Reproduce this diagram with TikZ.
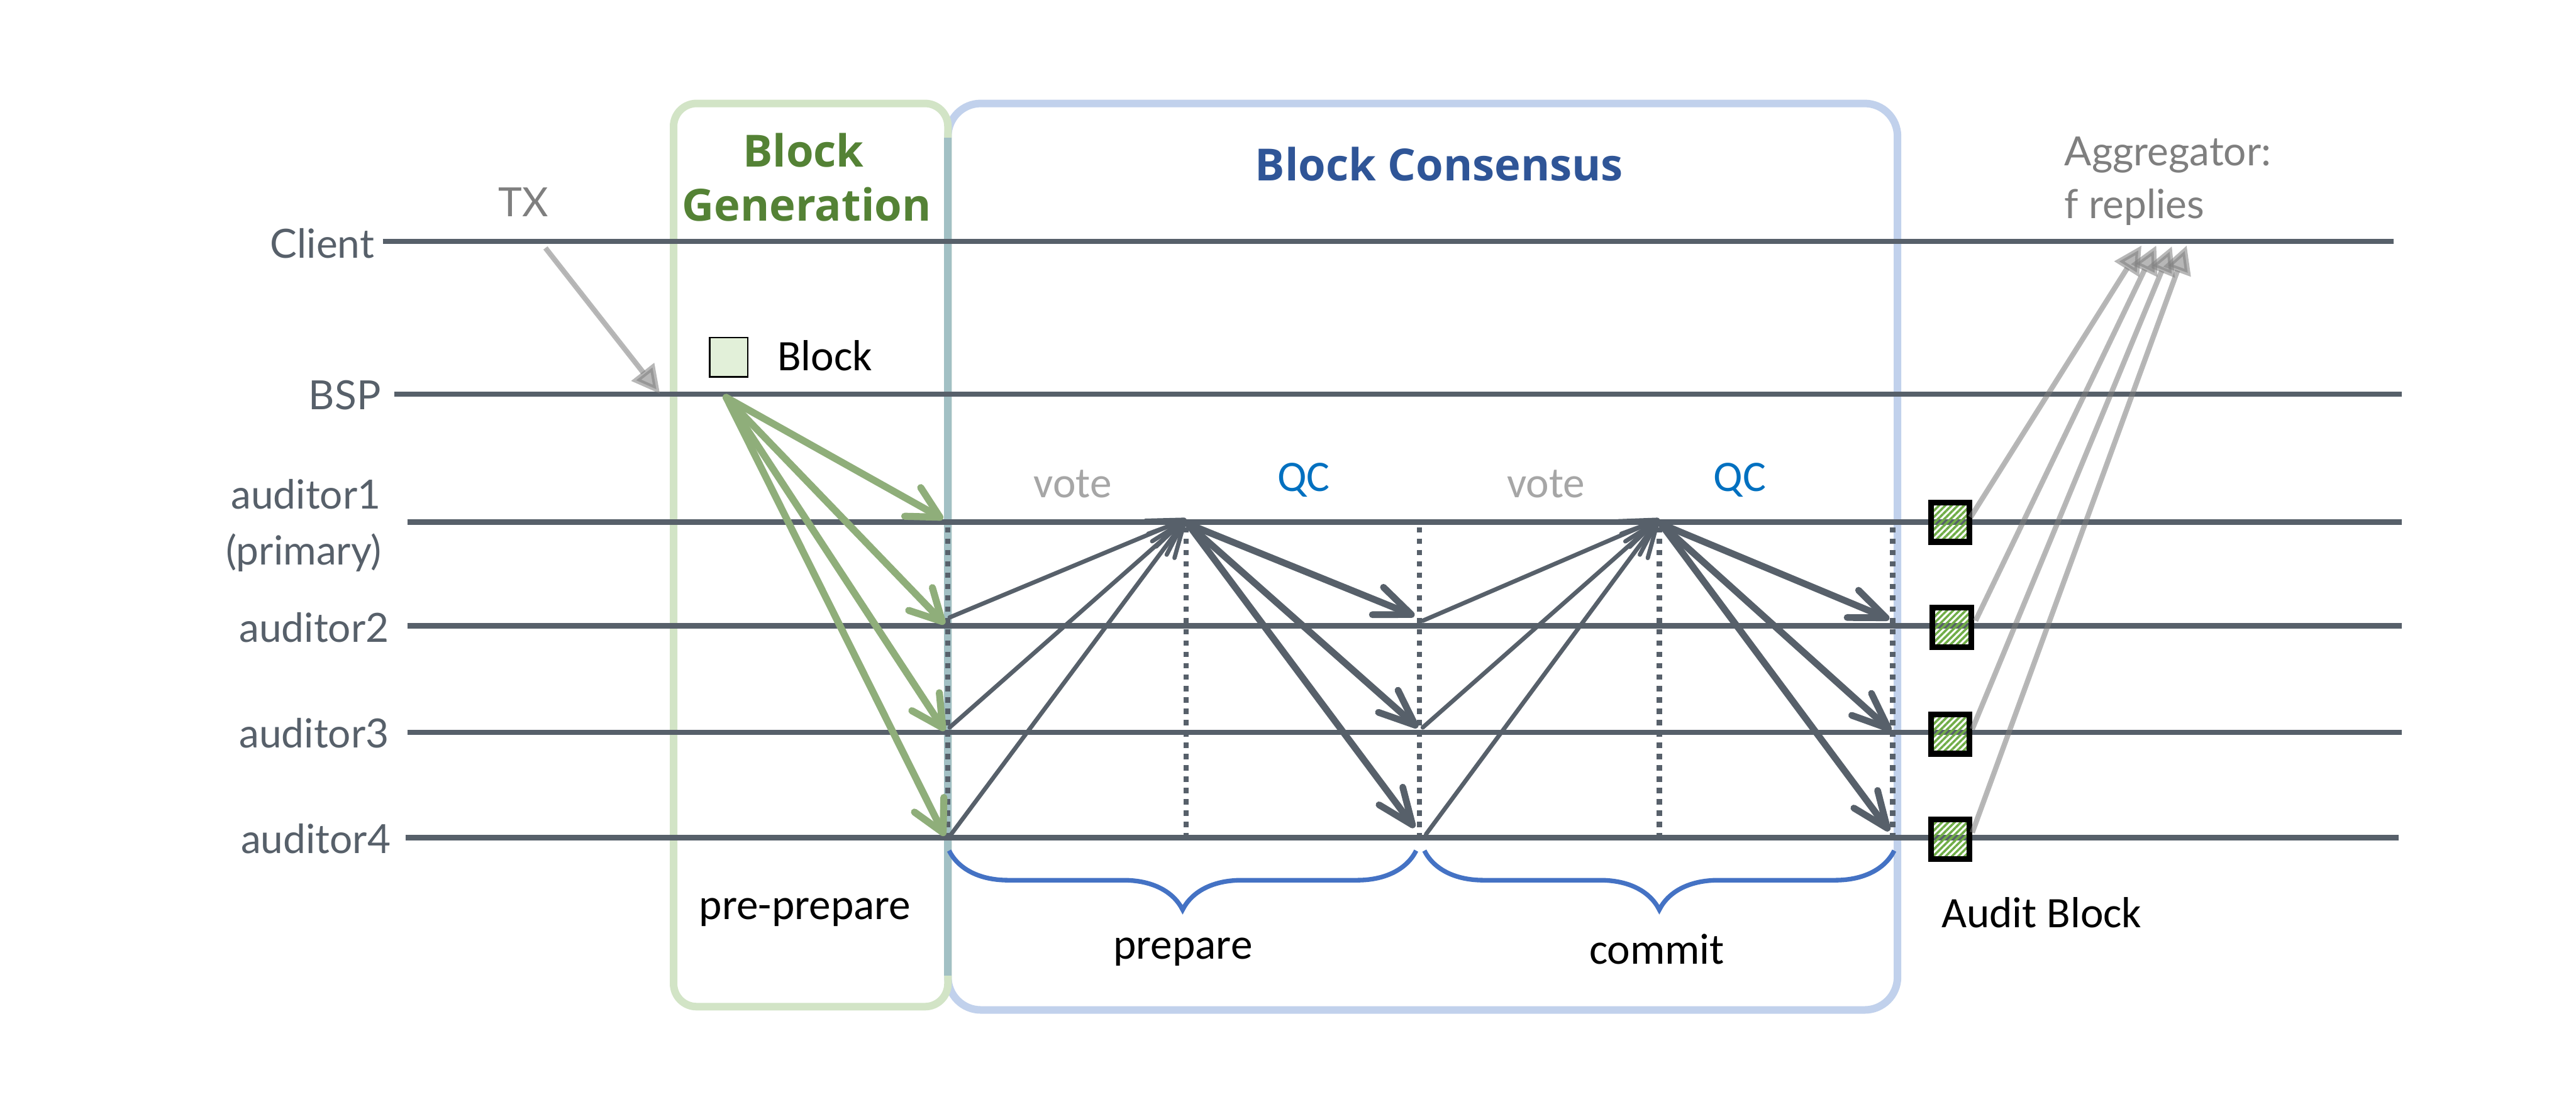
\documentclass[tikz,border=0pt]{standalone}
\usepackage{fontspec}
\setmainfont{Lato}
\newfontfamily\calib{Carlito}
\newfontfamily\titlef{Open Sans}
\usetikzlibrary{arrows.meta,decorations.pathreplacing,patterns.meta}
\definecolor{lifegray}{RGB}{87,96,106}
\definecolor{boxgreen}{RGB}{210,228,198}
\definecolor{boxblue}{RGB}{193,209,236}
\definecolor{boxteal}{RGB}{162,192,196}
\definecolor{titlegreen}{RGB}{84,130,53}
\definecolor{titleblue}{RGB}{47,85,151}
\definecolor{qcblue}{RGB}{0,112,192}
\definecolor{votegray}{RGB}{166,166,166}
\definecolor{txtgray}{RGB}{127,127,127}
\definecolor{arrgreen}{RGB}{143,174,122}
\definecolor{bracecol}{RGB}{68,114,196}
\definecolor{blockfill}{RGB}{226,240,217}
\definecolor{auditgreen}{RGB}{112,173,71}
\tikzset{
  lifeline/.style={draw=lifegray,line width=3.3},
  lbl/.style={font=\fontsize{24.5}{28}\selectfont,text=lifegray,inner sep=0},
  cal/.style={font=\calib\fontsize{26.5}{30}\selectfont,inner sep=0},
  ttl/.style={font=\titlef\bfseries\fontsize{27}{33}\selectfont,inner sep=0},
  greenarrow/.style={draw=arrgreen,line width=4.3,line cap=round,-{Straight Barb[length=19,width=20,round]}},
  votearrow/.style={draw=lifegray,line width=2.6,line cap=round,-{Straight Barb[length=22,width=17,round]}},
  qcarrow/.style={draw=lifegray,line width=4.1,line cap=round,-{Straight Barb[length=22,width=18,round]}},
  replyarrow/.style={draw=txtgray,fill=txtgray,draw opacity=0.56,fill opacity=0.56,line width=3.2,-{Triangle[length=17,width=17]}},
  dotline/.style={draw=lifegray,line width=3.2,dash pattern=on 3.3 off 3.6},
  bracestyle/.style={draw=bracecol,line width=2.8,decorate,decoration={brace,amplitude=36,mirror}},
  auditsq/.style={draw=black,line width=3.5,minimum width=23.5,minimum height=24,inner sep=0,
    pattern={Lines[angle=45,distance=2.7,line width=1.4]},pattern color=auditgreen},
}
\begin{document}
\begin{tikzpicture}[x=1pt,y=-1pt]
\useasboundingbox (0,0) rectangle (1568,671);
\fill[white] (0,0) rectangle (1568,671);
% phase boxes
\draw[boxblue,line width=4.6,rounded corners=20] (577,63) rectangle (1155,615);
\draw[boxgreen,line width=4.6,rounded corners=14] (410,63) rectangle (577,613);
\draw[boxteal,line width=4.6] (577,84) -- (577,594);
% titles
\node[ttl,text=titlegreen,anchor=base] (bg1) at (489,101.6) {Block};
\node[ttl,text=titlegreen,anchor=base] (bg2) at (491,134.5) {Generation};
\node[ttl,text=titleblue,anchor=base] (bc) at (876,110) {Block Consensus};
% lifelines
\coordinate (cl0) at (233,147); \coordinate (cl1) at (1457,147);
\coordinate (bl0) at (240,240); \coordinate (bl1) at (1462,240);
\coordinate (a1l0) at (248,318); \coordinate (a1l1) at (1462,318);
\coordinate (a2l0) at (248,381); \coordinate (a2l1) at (1462,381);
\coordinate (a3l0) at (248,446); \coordinate (a3l1) at (1462,446);
\coordinate (a4l0) at (247,510); \coordinate (a4l1) at (1460,510);
\foreach \s in {cl,bl,a1l,a2l,a3l,a4l}{\draw[lifeline] (\s0) -- (\s1);}
% labels
\node[lbl,anchor=base east] (lclient) at (228,157) {Client};
\node[lbl,anchor=base east] (lbsp) at (232,249.5) {BSP};
\node[lbl,anchor=base east] (la1) at (232,310) {auditor1};
\node[lbl,anchor=base east] (lprim) at (232.5,344) {(primary)};
\node[lbl,anchor=base east] (la2) at (237,391) {auditor2};
\node[lbl,anchor=base east] (la3) at (237,455.5) {auditor3};
\node[lbl,anchor=base east] (la4) at (238,519.5) {auditor4};
% TX
\node[lbl,text=txtgray,anchor=base] (tx) at (318.7,132) {TX};
\coordinate (txs) at (332,151); \coordinate (txe) at (401.7,239.8);
\draw[replyarrow] (txs) -- (txe);
% block legend
\node[draw=black,line width=0.8,fill=blockfill,minimum width=23,minimum height=24,inner sep=0] (blk) at (443.5,217.5) {};
\node[cal,anchor=base west] (blktxt) at (473,225.6) {Block};
% dotted separators
\foreach \x/\n in {577/d0,722/d1,864/d2,1010/d3,1152/d4}{
  \coordinate (\n t) at (\x,321); \coordinate (\n b) at (\x,510);
  \draw[dotline] (\n t) -- (\n b);}
% pre-prepare arrows
\coordinate (bs) at (442,242);
\coordinate (g1) at (574,316); \coordinate (g2) at (575,380);
\coordinate (g3) at (575,445); \coordinate (g4) at (575,509);
\foreach \g in {g1,g2,g3,g4}{\draw[greenarrow] (bs) -- (\g);}
% prepare
\coordinate (pv2) at (578,376); \coordinate (pv3) at (578,443); \coordinate (pv4) at (579,508);
\coordinate (pt) at (722,316);
\foreach \p in {pv2,pv3,pv4}{\draw[votearrow] (\p) -- (pt);}
\coordinate (pq2) at (861,375); \coordinate (pq3) at (863,443); \coordinate (pq4) at (861,504);
\coordinate (ps) at (723,319);
\foreach \p in {pq2,pq3,pq4}{\draw[qcarrow] (ps) -- (\p);}
% commit
\coordinate (cv2) at (866,378); \coordinate (cv3) at (866,443); \coordinate (cv4) at (868,508);
\coordinate (ct) at (1010,316);
\foreach \p in {cv2,cv3,cv4}{\draw[votearrow] (\p) -- (ct);}
\coordinate (cq2) at (1150,377); \coordinate (cq3) at (1151,445); \coordinate (cq4) at (1150,506);
\coordinate (cs) at (1011,319);
\foreach \p in {cq2,cq3,cq4}{\draw[qcarrow] (cs) -- (\p);}
% phase labels
\node[cal,text=votegray,anchor=base] (vote1) at (653,303) {vote};
\node[cal,text=qcblue,anchor=base] (qc1) at (793.5,299) {QC};
\node[cal,text=votegray,anchor=base] (vote2) at (941,303) {vote};
\node[cal,text=qcblue,anchor=base] (qc2) at (1059,299) {QC};
% braces
\coordinate (br1a) at (577.7,518); \coordinate (br1b) at (862,518);
\coordinate (br2a) at (867,518); \coordinate (br2b) at (1153,518);
\draw[bracestyle] (br1a) -- (br1b);
\draw[bracestyle] (br2a) -- (br2b);
\node[cal,anchor=base] (lpp) at (490,560) {pre-prepare};
\node[cal,anchor=base] (lp) at (720,584) {prepare};
\node[cal,anchor=base] (lc) at (1008.5,587) {commit};
% audit blocks
\node[auditsq] (ab1) at (1187,318) {};
\node[auditsq] (ab2) at (1188,382) {};
\node[auditsq] (ab3) at (1187,447) {};
\node[auditsq] (ab4) at (1187,511) {};
\node[cal,anchor=base] (lab) at (1242.7,565) {Audit Block};
% replies
\coordinate (r1) at (1303.5,149.5); \coordinate (r2) at (1312.5,149.5);
\coordinate (r3) at (1322,150); \coordinate (r4) at (1331,149.5);
\draw[replyarrow] (ab1.east) ++(0,-3) coordinate (s1) -- (r1);
\draw[replyarrow] (ab2.east) ++(1,-4) coordinate (s2) -- (r2);
\draw[replyarrow] (ab3.east) ++(0,-3) coordinate (s3) -- (r3);
\draw[replyarrow] (ab4.east) ++(0,-4) coordinate (s4) -- (r4);
\node[lbl,text=txtgray,anchor=base west] (agg1) at (1256.5,100.8) {Aggregator:};
\node[lbl,text=txtgray,anchor=base west] (agg2) at (1256.5,133) {f replies};
\end{tikzpicture}
\end{document}
